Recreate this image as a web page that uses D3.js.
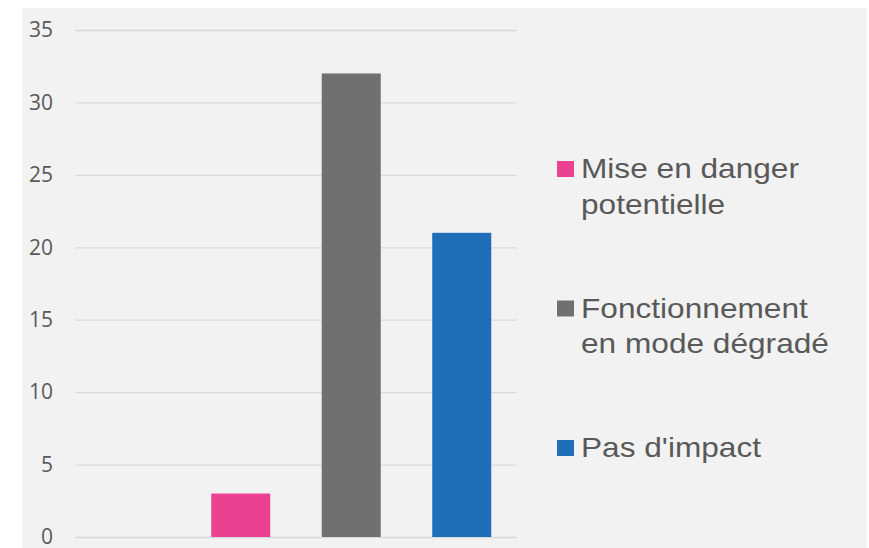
<!DOCTYPE html>
<html>
<head>
<meta charset="utf-8">
<script src="https://cdn.jsdelivr.net/npm/d3@7"></script>
<style>
  html, body { margin: 0; padding: 0; background: #ffffff; }
  svg { display: block; }
</style>
</head>
<body>
<svg id="chart" width="869" height="548"></svg>
<script>
// data
const categories = ["Mise en danger potentielle", "Fonctionnement en mode dégradé", "Pas d'impact"]
const values = [3, 32, 21]
const colors = ["#ea4190", "#707070", "#1f6eb8"]
const yTicks = [0, 5, 10, 15, 20, 25, 30, 35]
// legend labels broken on two lines like the original
const legendLines = [["Mise en danger", "potentielle"], ["Fonctionnement", "en mode dégradé"], ["Pas d'impact"]]

const svg = d3.select("#chart")

// chart area background
svg.append("rect")
  .attr("x", 22).attr("y", 8)
  .attr("width", 845).attr("height", 540)
  .attr("fill", "#f2f2f2")

const plot = { left: 75, right: 517, top: 30, bottom: 537 }

// first slot stays empty in the original
const slots = [""].concat(categories)

const x = d3.scaleBand()
  .domain(slots)
  .range([plot.left, plot.right])
  .paddingInner(0.466)
  .paddingOuter(0.233)

const y = d3.scaleLinear()
  .domain([0, 35])
  .range([plot.bottom, plot.top])

// gridlines + tick labels via axis
const yAxis = d3.axisLeft(y)
  .tickValues(yTicks)
  .tickSize(-(plot.right - plot.left))
  .tickPadding(22)

const gy = svg.append("g")
  .attr("transform", "translate(" + plot.left + ",0)")
  .call(yAxis)

gy.select(".domain").remove()
gy.selectAll(".tick line")
  .attr("stroke", "#d9d9d9")
  .attr("stroke-width", 1.3)
gy.selectAll(".tick text")
  .attr("fill", "#595959")
  .style("font-family", "'Open Sans', 'Noto Sans', sans-serif")
  .style("font-size", "21px")

// bars
svg.selectAll(".bar")
  .data(categories)
  .enter()
  .append("rect")
  .attr("class", "bar")
  .attr("x", function (d) { return x(d) })
  .attr("width", x.bandwidth())
  .attr("y", function (d, i) { return y(values[i]) })
  .attr("height", function (d, i) { return y(0) - y(values[i]) })
  .attr("fill", function (d, i) { return colors[i] })

// legend
const legend = svg.selectAll(".legend-item")
  .data(categories)
  .enter()
  .append("g")
  .attr("class", "legend-item")
  .attr("transform", function (d, i) { return "translate(557," + (161 + i * 139.5) + ")" })

legend.append("rect")
  .attr("width", 17).attr("height", 16)
  .attr("fill", function (d, i) { return colors[i] })

// text in the original is a bit wider than Liberation Sans, so stretch it a little
legend.append("text")
  .attr("transform", "translate(24,17) scale(1.13,1)")
  .attr("fill", "#595959")
  .style("font-family", "'Liberation Sans', Arial, sans-serif")
  .style("font-size", "28px")
  .selectAll("tspan")
  .data(function (d, i) { return legendLines[i] })
  .enter()
  .append("tspan")
  .attr("x", 0)
  .attr("dy", function (d, i) { return i === 0 ? 0 : 36 })
  .text(function (d) { return d })
</script>
</body>
</html>
